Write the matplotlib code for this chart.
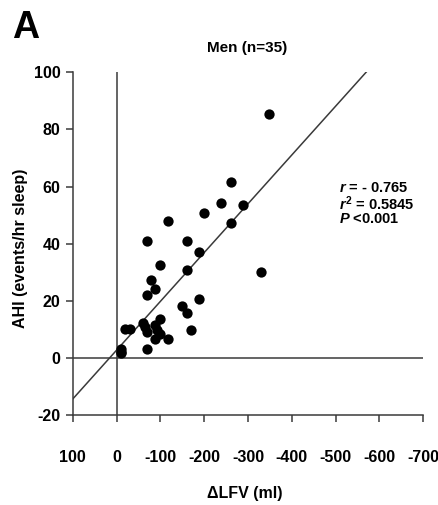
import matplotlib
matplotlib.use("Agg")
import matplotlib.pyplot as plt
from matplotlib import font_manager

# ---- data ----
delta_lfv = [-347, -260, -238, -288, -199, -117.5, -260, -68.7, -159.5, -188,
             -98.5, -159.5, -329, -79, -88.5, -68.7, -188, -149.6, -159.5, -18,
             -30, -60, -68.7, -98.5, -88.5, -168.7, -88.5, -98.5, -117.5, -68.7,
             -9, -9, -64, -93, -11]
ahi = [85.5, 61.5, 54.2, 53.4, 50.9, 47.8, 47.2, 40.8, 40.8, 37.1,
       32.7, 30.7, 30.1, 27.2, 24.0, 22.2, 20.8, 18.1, 15.8, 10.2,
       10.2, 12.3, 9.1, 13.7, 11.7, 9.7, 6.7, 8.5, 6.5, 3.0,
       3.0, 1.6, 11.0, 9.8, 2.2]
fit_intercept = 2.76
fit_slope = -0.1707
fit_x_range = [100, -573]
x_ticks = [100, 0, -100, -200, -300, -400, -500, -600, -700]
x_tick_labels = ["100", "0", "-100", "-200", "-300", "-400", "-500", "-600", "-700"]
y_ticks = [-20, 0, 20, 40, 60, 80, 100]
y_tick_labels = ["-20", "0", "20", "40", "60", "80", "100"]
title = "Men (n=35)"
panel = "A"
xlabel = "\u0394LFV (ml)"
ylabel = "AHI (events/hr sleep)"
stats_lines = [r"$r$ = - 0.765", r"$r^2$ = 0.5845", r"$P$ <0.001"]

names = {f.name for f in font_manager.fontManager.ttflist}
fam = "Liberation Sans Narrow" if "Liberation Sans Narrow" in names else "Liberation Sans"
plt.rcParams['font.family'] = [fam, 'DejaVu Sans']
plt.rcParams['axes.unicode_minus'] = False
plt.rcParams['mathtext.fontset'] = 'custom'
plt.rcParams['mathtext.it'] = f'{fam}:italic:bold'
plt.rcParams['mathtext.rm'] = f'{fam}:bold'
plt.rcParams['mathtext.bf'] = f'{fam}:bold'

fig = plt.figure(figsize=(4.39, 5.05), dpi=100)
ax = fig.add_axes([0.166, 0.178, 0.798, 0.679])

lc = '#3a3a3a'
ax.axhline(0, color=lc, lw=1.1, zorder=1)
ax.axvline(0, color=lc, lw=1.1, zorder=1)
fx = fit_x_range
fy = [fit_intercept + fit_slope * v for v in fx]
ax.plot(fx, fy, color=lc, lw=1.1, zorder=2)
ax.scatter(delta_lfv, ahi, s=55, color='black', zorder=3, linewidths=0)

ax.set_xlim(100, -700)
ax.set_ylim(-20, 100)
ax.set_xticks(x_ticks)
ax.set_xticklabels(x_tick_labels)
ax.set_yticks(y_ticks)
ax.set_yticklabels(y_tick_labels)
for s in ['top', 'right']:
    ax.spines[s].set_visible(False)
for s in ['left', 'bottom']:
    ax.spines[s].set_color(lc)
    ax.spines[s].set_linewidth(1.1)
ax.tick_params(axis='both', direction='out', length=5, width=1.1, color=lc,
               labelsize=11.5, pad=4)
ax.tick_params(axis='x', pad=20)
for lab in ax.get_xticklabels() + ax.get_yticklabels():
    lab.set_fontweight('bold')

ax.set_xlabel(xlabel, fontsize=11.5, fontweight='bold')
ax.set_ylabel(ylabel, fontsize=11.5, fontweight='bold')
ax.xaxis.set_label_coords(0.491, -0.208)
ax.yaxis.set_label_coords(-0.129, 0.487)

fig.text(0.563, 0.905, title, fontsize=11, fontweight='bold', ha='center', va='center')
fig.text(0.028, 0.945, panel, fontsize=27, fontweight='bold', ha='left', va='center')

for i, line in enumerate(stats_lines):
    ax.text(-507, 59.5 - 5.5 * i, line, fontsize=10.5, fontweight='bold',
            ha='left', va='center')

fig.savefig("out.png", dpi=100)
